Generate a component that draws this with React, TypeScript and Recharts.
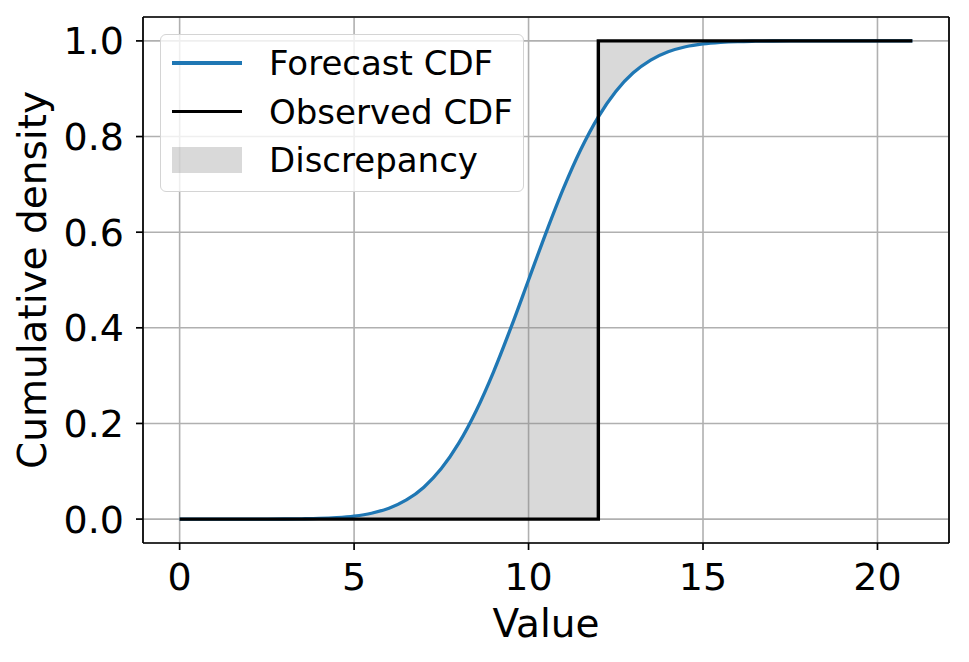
import React from "react"
import {
  ComposedChart,
  Line,
  Area,
  XAxis,
  YAxis,
  CartesianGrid,
  ReferenceLine,
  Label
} from "recharts"

const FONT = "'DejaVu Sans', sans-serif"

const xValues = [
  0, 0.5, 1, 1.5, 2, 2.5, 3, 3.5, 4, 4.5, 5, 5.5, 6, 6.5, 7, 7.5, 8, 8.5, 9, 9.5, 10,
  10.5, 11, 11.5, 12, 12.5, 13, 13.5, 14, 14.5, 15, 15.5, 16, 16.5, 17, 17.5, 18, 18.5,
  19, 19.5, 20, 20.5, 21
]

const forecastCdf = [
  0, 0, 0, 0, 0, 0.0001, 0.0002, 0.0006, 0.0013, 0.003, 0.0062, 0.0122, 0.0228, 0.0401,
  0.0668, 0.1056, 0.1587, 0.2266, 0.3085, 0.4013, 0.5, 0.5987, 0.6915, 0.7734, 0.8413,
  0.8944, 0.9332, 0.9599, 0.9772, 0.9878, 0.9938, 0.997, 0.9987, 0.9994, 0.9998, 1, 1, 1,
  1, 1, 1, 1, 1
]

// observed CDF: a single step
const observedX = [0, 12, 21]
const observedCdf = [0, 1, 1]
const observedValue = 12

const xTicks = [0, 5, 10, 15, 20]
const yTicks = [0, 0.2, 0.4, 0.6, 0.8, 1.0]

const legendItems = [
  { label: "Forecast CDF", kind: "line", color: "#1f77b4" },
  { label: "Observed CDF", kind: "line", color: "#000000" },
  { label: "Discrepancy", kind: "patch", color: "rgba(128,128,128,0.3)" }
]

const data = xValues.map((x, i) => {
  const f = forecastCdf[i]
  const oi = observedX.indexOf(x)
  return {
    x,
    forecast: f,
    observed: oi >= 0 ? observedCdf[oi] : undefined,
    below: x <= observedValue ? [0, f] : undefined,
    above: x >= observedValue ? [f, 1] : undefined
  }
})

const tickStyle = { fontFamily: FONT, fontSize: 38, fill: "#000" }

function LegendBox() {
  return (
    <div
      style={{
        position: "absolute",
        left: 160,
        top: 34,
        width: 364,
        height: 158,
        boxSizing: "border-box",
        border: "1.5px solid #d4d4d4",
        borderRadius: 6,
        background: "rgba(255,255,255,0.8)",
        fontFamily: FONT,
        fontSize: 34
      }}
    >
      {legendItems.map((it, i) => (
        <div
          key={it.label}
          style={{
            position: "absolute",
            left: 0,
            top: 28 + i * 48.5 - 20,
            height: 40,
            display: "flex",
            alignItems: "center"
          }}
        >
          {it.kind === "line" ? (
            <div style={{ marginLeft: 11, width: 70, height: 3.2, background: it.color }} />
          ) : (
            <div style={{ marginLeft: 11, width: 70, height: 26, background: it.color }} />
          )}
          <span style={{ marginLeft: 27, whiteSpace: "nowrap" }}>{it.label}</span>
        </div>
      ))}
    </div>
  )
}

export default function App() {
  return (
    <div style={{ position: "absolute", left: 0, top: 0, width: 969, height: 662, background: "#fff" }}>
      <ComposedChart
        width={969}
        height={662}
        data={data}
        margin={{ top: 17, right: 20, bottom: 0, left: 0 }}
      >
        <CartesianGrid stroke="#b0b0b0" strokeWidth={1.6} />
        <XAxis
          dataKey="x"
          type="number"
          domain={[-1.05, 22.05]}
          allowDataOverflow
          ticks={xTicks}
          tick={tickStyle}
          tickSize={7}
          tickMargin={13}
          height={119}
          stroke="#000"
          strokeWidth={1.7}
        >
          <Label
            content={({ viewBox }: any) => (
              <text
                x={viewBox.x + viewBox.width / 2}
                y={637}
                textAnchor="middle"
                style={{ fontFamily: FONT, fontSize: 39 }}
                fill="#000"
              >
                Value
              </text>
            )}
          />
        </XAxis>
        <YAxis
          type="number"
          domain={[-0.05, 1.05]}
          allowDataOverflow
          ticks={yTicks}
          tickFormatter={(v: number) => v.toFixed(1)}
          tick={tickStyle}
          tickSize={7}
          tickMargin={12}
          width={143}
          stroke="#000"
          strokeWidth={1.7}
        >
          <Label
            content={({ viewBox }: any) => {
              const cy = viewBox.y + viewBox.height / 2
              return (
                <text
                  x={46}
                  y={cy}
                  transform={`rotate(-90, 46, ${cy})`}
                  textAnchor="middle"
                  style={{ fontFamily: FONT, fontSize: 39 }}
                  fill="#000"
                >
                  Cumulative density
                </text>
              )
            }}
          />
        </YAxis>
        <ReferenceLine x={22.05} stroke="#000" strokeWidth={1.7} />
        <ReferenceLine y={1.05} stroke="#000" strokeWidth={1.7} />
        <Area
          dataKey="below"
          type="monotone"
          stroke="none"
          fill="#808080"
          fillOpacity={0.3}
          isAnimationActive={false}
        />
        <Area
          dataKey="above"
          type="monotone"
          stroke="none"
          fill="#808080"
          fillOpacity={0.3}
          isAnimationActive={false}
        />
        <Line
          dataKey="forecast"
          type="monotone"
          stroke="#1f77b4"
          strokeWidth={3.3}
          dot={false}
          isAnimationActive={false}
        />
        <Line
          dataKey="observed"
          type="stepAfter"
          stroke="#000"
          strokeWidth={3.4}
          dot={false}
          connectNulls
          isAnimationActive={false}
        />
      </ComposedChart>
      <LegendBox />
    </div>
  )
}
